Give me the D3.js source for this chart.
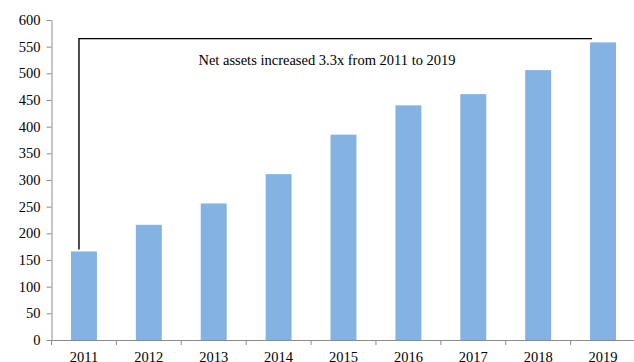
<!DOCTYPE html>
<html>
<head>
<meta charset="utf-8">
<script src="https://cdn.jsdelivr.net/npm/d3@7"></script>
<style>
  html, body { margin: 0; padding: 0; background: #fff; }
  svg { display: block; }
  text { font-family: "Liberation Serif", "Times New Roman", serif; fill: #000; }
</style>
</head>
<body>
<svg id="chart" width="634" height="362"></svg>
<script>
// Net assets by year
const years = ["2011", "2012", "2013", "2014", "2015", "2016", "2017", "2018", "2019"];
const netAssets = [166, 216, 256, 311, 385, 440, 461, 506, 558];
const yTicks = [0, 50, 100, 150, 200, 250, 300, 350, 400, 450, 500, 550, 600];
const bracketLevel = 565;
const note = "Net assets increased 3.3x from 2011 to 2019";

const svg = d3.select("#chart");
const plotLeft = 51.5, plotRight = 635.5, plotTop = 20, plotBottom = 340;

const x = d3.scaleBand().domain(years).range([plotLeft, plotRight])
  .paddingInner(0.6).paddingOuter(0.3);
const y = d3.scaleLinear().domain([0, 600]).range([plotBottom, plotTop]);

const axisColor = "#8c8c8c";

// bars
svg.append("g").selectAll("rect")
  .data(years)
  .join("rect")
  .attr("x", d => x(d))
  .attr("width", x.bandwidth())
  .attr("y", (d, i) => y(netAssets[i]))
  .attr("height", (d, i) => y(0) - y(netAssets[i]))
  .attr("fill", "#84b3e3");

// y axis
const yAxis = svg.append("g")
  .attr("transform", `translate(${plotLeft},0)`)
  .call(d3.axisLeft(y).tickValues(yTicks).tickSize(5).tickPadding(6).tickSizeOuter(0));
yAxis.select(".domain").attr("stroke", axisColor);
yAxis.selectAll(".tick line").attr("stroke", axisColor);
yAxis.selectAll(".tick text")
  .style("font-family", "'Liberation Serif', 'Times New Roman', serif")
  .style("font-size", "14.5px")
  .attr("fill", "#000");

// x axis: labels centred on bars, tick marks on category boundaries
const xAxis = svg.append("g")
  .attr("transform", `translate(0,${plotBottom})`)
  .call(d3.axisBottom(x).tickSize(0).tickPadding(0).tickSizeOuter(0));
xAxis.select(".domain").remove();
xAxis.selectAll(".tick text")
  .attr("y", 22)
  .attr("dy", 0)
  .style("font-family", "'Liberation Serif', 'Times New Roman', serif")
  .style("font-size", "14.5px")
  .attr("fill", "#000");

const step = x.step();
const bounds = d3.range(years.length + 1).map(i => plotLeft + i * step);
svg.append("line")
  .attr("x1", plotLeft).attr("x2", plotRight)
  .attr("y1", plotBottom + 0.5).attr("y2", plotBottom + 0.5)
  .attr("stroke", axisColor);
svg.append("g").selectAll("line")
  .data(bounds)
  .join("line")
  .attr("x1", d => d).attr("x2", d => d)
  .attr("y1", plotBottom).attr("y2", plotBottom + 5)
  .attr("stroke", axisColor);

// bracket from the first bar to the last
const xStart = x(years[0]) + 8;
const xEnd = x(years[years.length - 1]) + 2;
svg.append("path")
  .attr("d", d3.line()([
    [xStart, y(netAssets[0]) - 2],
    [xStart, y(bracketLevel)],
    [xEnd, y(bracketLevel)]
  ]))
  .attr("fill", "none")
  .attr("stroke", "#000")
  .attr("stroke-width", 1.4);

svg.append("text")
  .attr("x", 327)
  .attr("y", y(bracketLevel) + 26)
  .attr("text-anchor", "middle")
  .style("font-size", "14.5px")
  .text(note);
</script>
</body>
</html>
